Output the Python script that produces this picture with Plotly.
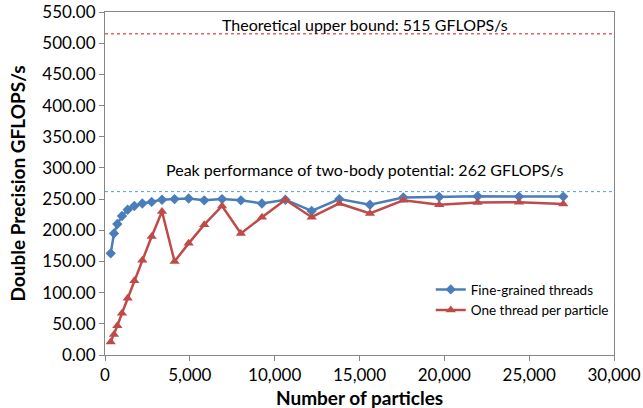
import plotly.graph_objects as go

particles = [336, 530, 727, 1000, 1335, 1730, 2200, 2750, 3360, 4100, 4930, 5850,
             6900, 8010, 9250, 10630, 12180, 13810, 15615, 17580, 19700, 21960, 24400, 27010]
fine_grained = [163, 195, 210, 223, 233, 239, 243, 245.5, 249, 250, 251, 248,
                250, 248, 243, 249, 231, 250, 241, 252.5, 253.5, 254.5, 254, 254]
one_per_particle = [21, 33, 47, 67, 91, 119, 152, 190, 230, 150, 179, 209,
                    239, 195, 221, 249, 221, 243, 227, 248, 241, 244.5, 245, 242]
upper_bound = 515
peak_two_body = 262
upper_label = "Theoretical upper bound: 515 GFLOPS/s"
peak_label = "Peak performance of two-body potential: 262 GFLOPS/s"
x_title = "Number of particles"
y_title = "Double Precision GFLOPS/s"

FONT = "Lato"
BLUE = "rgb(74,126,187)"
RED = "rgb(190,75,72)"

fig = go.Figure()
fig.add_trace(go.Scatter(
    x=particles, y=fine_grained, mode="lines+markers", name="Fine-grained threads",
    line=dict(color=BLUE, width=2.5),
    marker=dict(symbol="diamond", size=8, color=BLUE),
))
fig.add_trace(go.Scatter(
    x=particles, y=one_per_particle, mode="lines+markers", name="One thread per particle",
    line=dict(color=RED, width=2.5),
    marker=dict(symbol="triangle-up", size=9, color=RED),
))

fig.add_hline(y=upper_bound, line=dict(color="rgb(220,20,20)", width=1, dash="dot"))
fig.add_hline(y=peak_two_body, line=dict(color="rgb(91,155,213)", width=1, dash="dot"))

fig.add_annotation(x=0.511, xref="paper", y=upper_bound, yref="y", text=upper_label,
                   showarrow=False, yanchor="bottom", yshift=-2,
                   font=dict(family=FONT, size=16, color="#000"))
fig.add_annotation(x=0.509, xref="paper", y=peak_two_body, yref="y", text=peak_label,
                   showarrow=False, yanchor="bottom", yshift=11,
                   font=dict(family=FONT, size=16, color="#000"))

# axis titles
fig.add_annotation(x=0.5, xref="paper", y=-0.123, yref="paper", text="<b>%s</b>" % x_title,
                   showarrow=False, xanchor="center", yanchor="middle",
                   font=dict(family=FONT, size=19, color="#000"))
fig.add_annotation(x=-0.171, xref="paper", y=0.5, yref="paper", text="<b>%s</b>" % y_title,
                   showarrow=False, xanchor="center", yanchor="middle", textangle=-90,
                   font=dict(family=FONT, size=19, color="#000"))

fig.update_layout(
    width=643, height=408,
    margin=dict(l=105, r=29, t=12, b=53),
    paper_bgcolor="white", plot_bgcolor="white",
    font=dict(family=FONT, size=17, color="#000"),
    showlegend=True,
    legend=dict(x=0.64, y=0.16, xanchor="left", yanchor="middle",
                bgcolor="rgba(0,0,0,0)", font=dict(family=FONT, size=13.5),
                tracegroupgap=0, itemwidth=30),
    xaxis=dict(
        range=[0, 30000], dtick=5000, tickformat=",d", automargin=False,
        showgrid=False, zeroline=False,
        showline=True, linecolor="rgb(134,134,134)", linewidth=1, mirror=True,
        ticks="outside", ticklen=5, tickcolor="rgb(134,134,134)",
        tickfont=dict(family=FONT, size=17),
    ),
    yaxis=dict(
        range=[0, 550], dtick=50, tickformat=".2f", automargin=False,
        showgrid=False, zeroline=False,
        showline=True, linecolor="rgb(134,134,134)", linewidth=1, mirror=True,
        ticks="outside", ticklen=5, tickcolor="rgb(134,134,134)",
        tickfont=dict(family=FONT, size=17),
    ),
)

fig.write_html("out.html")
